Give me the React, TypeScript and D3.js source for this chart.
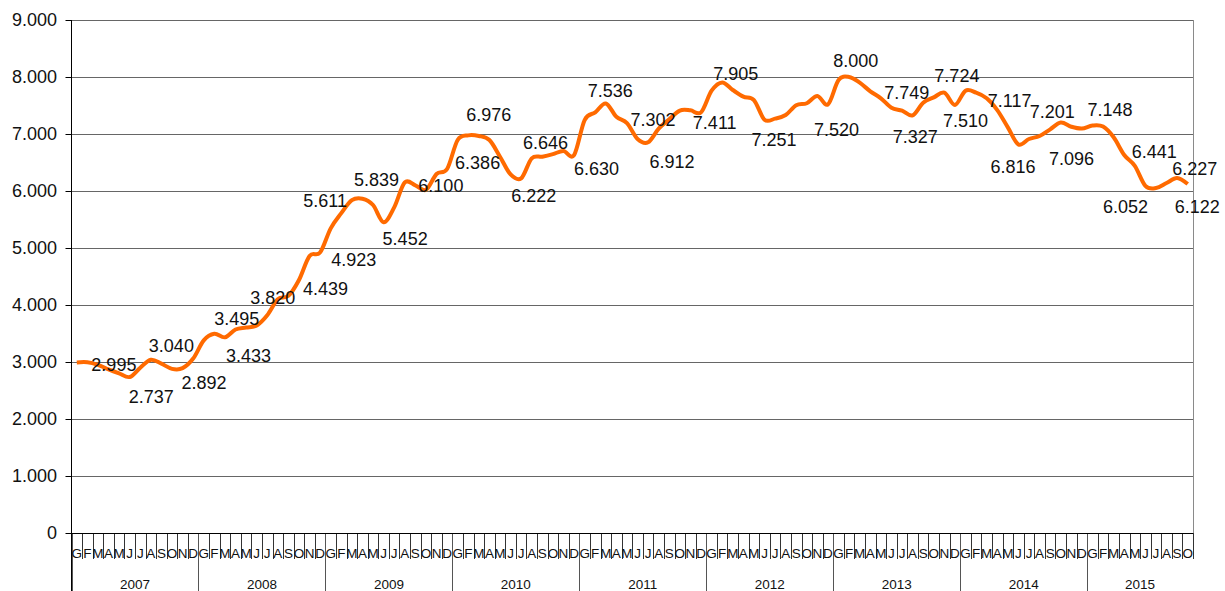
import React, { useEffect, useRef } from 'react';
import * as d3 from 'd3';

// Categories
const years = ['2007', '2008', '2009', '2010', '2011', '2012', '2013', '2014', '2015'];
const monthLetters = ['G', 'F', 'M', 'A', 'M', 'J', 'J', 'A', 'S', 'O', 'N', 'D'];

// Monthly values, one array per year
const values2007 = [2992, 2995, 2950, 2870, 2800, 2737, 2900, 3040, 2970, 2880, 2892, 3060];
const values2008 = [3380, 3495, 3433, 3570, 3605, 3640, 3820, 4100, 4160, 4439, 4860, 4923];
const values2009 = [5345, 5611, 5839, 5865, 5754, 5452, 5713, 6150, 6100, 6020, 6298, 6386];
const values2010 = [6895, 6976, 6965, 6895, 6602, 6290, 6222, 6573, 6602, 6646, 6702, 6630];
const values2011 = [7245, 7380, 7536, 7302, 7190, 6912, 6855, 7095, 7257, 7411, 7415, 7380];
const values2012 = [7760, 7905, 7772, 7655, 7596, 7251, 7269, 7333, 7505, 7540, 7667, 7520];
const values2013 = [7947, 8000, 7900, 7749, 7626, 7462, 7409, 7327, 7550, 7643, 7724, 7510];
const values2014 = [7760, 7725, 7626, 7420, 7117, 6816, 6912, 6965, 7082, 7201, 7128, 7096];
const values2015 = [7148, 7130, 6942, 6632, 6441, 6090, 6052, 6140, 6227, 6122];

// Months that carry a data label
const labeledMonths = [1, 5, 7, 10, 13, 14, 18, 21, 23, 25, 26, 29, 32, 35, 37, 42, 45, 47, 50, 51, 53,
    57, 61, 65, 71, 73, 75, 79, 82, 83, 88, 89, 93, 95, 96, 100, 102, 104, 105];

// Label nudges (px) from the point, as the labels were moved by hand in the original
const labelNudge = [[4, 2], [-1, 20], [-2, -14], [-1, 15], [0, -15], [1, 18], [-17, -18], [4, 9], [11, 7],
    [-38, -12], [2, -20], [-1, 16], [3, 0], [8, -6], [-2, -21], [-10, 17], [-30, -11], [0, 14], [-18, -13],
    [14, 3], [12, 23], [13, 12], [-9, -9], [-13, 20], [-14, 25], [-16, -16], [14, 1], [-20, 21], [-10, -17],
    [-12, 16], [-20, -27], [-28, 22], [-31, -11], [-33, 30], [-5, -16], [-3, -14], [-53, 19], [-5, -9], [-13, 23]];

export default function App() {
    const ref = useRef<SVGSVGElement>(null);

    useEffect(() => {
        const svg = d3.select(ref.current);
        svg.selectAll('*').remove();

        const width = 1225;
        const height = 591;
        const left = 71.5;
        const right = 1193;
        const top = 20;
        const bottom = 533;

        const values = [...values2007, ...values2008, ...values2009, ...values2010, ...values2011,
            ...values2012, ...values2013, ...values2014, ...values2015];
        const n = values.length;

        const x = d3.scaleBand<number>().domain(d3.range(n)).range([left, right]);
        const y = d3.scaleLinear().domain([0, 9000]).range([bottom, top]);
        const cx = (i: number) => (x(i) as number) + x.bandwidth() / 2;

        const it = d3.formatLocale({ decimal: ',', thousands: '.', grouping: [3], currency: ['', ''] });
        const fmt = it.format(',');

        svg.attr('width', width).attr('height', height);
        const font = '"Liberation Sans", Arial, sans-serif';

        // Gridlines
        svg.append('g')
            .selectAll('line')
            .data(y.ticks(9).filter(d => d > 0))
            .enter().append('line')
            .attr('x1', left).attr('x2', right)
            .attr('y1', d => Math.round(y(d)) + 0.5).attr('y2', d => Math.round(y(d)) + 0.5)
            .attr('stroke', '#666').attr('stroke-width', 1);

        // Right border
        svg.append('line')
            .attr('x1', right + 0.5).attr('x2', right + 0.5)
            .attr('y1', top).attr('y2', bottom)
            .attr('stroke', '#8a8a8a');

        // Y axis
        const yAxis = svg.append('g');
        yAxis.selectAll('line.tick')
            .data(y.ticks(9))
            .enter().append('line')
            .attr('x1', left - 6).attr('x2', left)
            .attr('y1', d => Math.round(y(d)) + 0.5).attr('y2', d => Math.round(y(d)) + 0.5)
            .attr('stroke', '#000');
        yAxis.selectAll('text')
            .data(y.ticks(9))
            .enter().append('text')
            .attr('x', 57).attr('y', d => y(d))
            .attr('dy', '0.35em')
            .attr('text-anchor', 'end')
            .style('font-family', font).style('font-size', '18px').style('fill', '#111')
            .text(d => fmt(d));

        // X axis: month ticks and letters
        const xAxis = svg.append('g');
        xAxis.selectAll('line.m')
            .data(d3.range(n + 1))
            .enter().append('line')
            .attr('x1', k => Math.round(left + k * x.step()) + 0.5)
            .attr('x2', k => Math.round(left + k * x.step()) + 0.5)
            .attr('y1', bottom)
            .attr('y2', k => (k % 12 === 0 ? height : 559))
            .attr('stroke', k => (k % 12 === 0 ? '#555' : '#333'))
            .attr('stroke-width', 1);
        xAxis.selectAll('text.m')
            .data(d3.range(n))
            .enter().append('text')
            .attr('x', i => cx(i))
            .attr('y', 558)
            .attr('text-anchor', 'middle')
            .style('font-family', font).style('font-size', '13.5px').style('fill', '#111')
            .text(i => monthLetters[i % 12]);
        xAxis.selectAll('text.y')
            .data(years)
            .enter().append('text')
            .attr('x', (d, j) => {
                const a = left + j * 12 * x.step();
                const b = Math.min(right, left + (j + 1) * 12 * x.step());
                return (a + b) / 2;
            })
            .attr('y', 589)
            .attr('text-anchor', 'middle')
            .style('font-family', font).style('font-size', '13.5px').style('fill', '#111')
            .text(d => d);

        // Left axis line (to the bottom) and baseline
        svg.append('line')
            .attr('x1', left).attr('x2', left).attr('y1', top).attr('y2', height)
            .attr('stroke', '#000');
        svg.append('line')
            .attr('x1', left).attr('x2', right).attr('y1', bottom + 0.5).attr('y2', bottom + 0.5)
            .attr('stroke', '#000');

        // Line
        const line = d3.line<number>()
            .x((d, i) => cx(i))
            .y(d => y(d))
            .curve(d3.curveCardinal.tension(0));
        svg.append('path')
            .datum(values)
            .attr('d', line)
            .attr('fill', 'none')
            .attr('stroke', '#ff6a00')
            .attr('stroke-width', 4)
            .attr('stroke-linejoin', 'round');

        // Data labels
        svg.append('g')
            .selectAll('text')
            .data(labeledMonths)
            .enter().append('text')
            .attr('x', (i, k) => cx(i) + labelNudge[k][0])
            .attr('y', (i, k) => y(values[i]) + labelNudge[k][1])
            .attr('dy', '0.35em')
            .style('font-family', font).style('font-size', '18px').style('fill', '#111')
            .text(i => fmt(values[i]));
    }, []);

    return (
        <svg ref={ref} style={{ position: 'absolute', left: 0, top: 0 }}></svg>
    );
}
